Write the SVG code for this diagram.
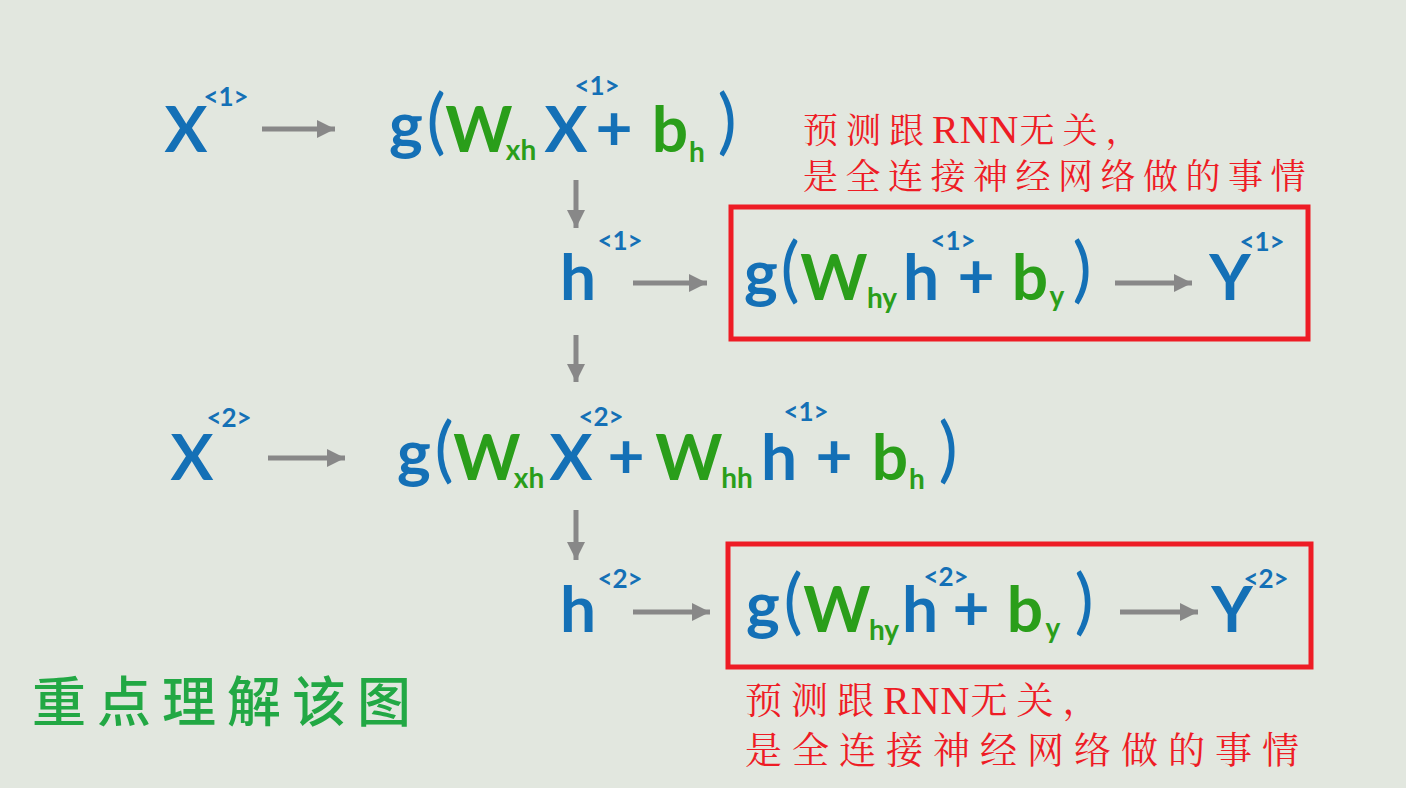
<svg xmlns="http://www.w3.org/2000/svg" width="1406" height="788" viewBox="0 0 1406 788">
<defs>
<marker id="ah" markerUnits="userSpaceOnUse" markerWidth="20" markerHeight="20" refX="18" refY="10" orient="auto">
<path d="M0,1 L18,10 L0,19 Z" fill="#888888"/>
</marker>
<style>
text{font-family:Lato,"Open Sans","Liberation Sans",sans-serif;font-weight:700;text-anchor:middle}
.b{fill:#1470b6}
.g{fill:#2a9e1a}
.L{font-size:64px}
.P{font-size:72px;font-weight:400}
.s{font-size:28px}
.p{font-size:26px}
.c{stroke:#888888;stroke-width:5;fill:none;marker-end:url(#ah)}
.box{fill:none;stroke:#ee1c25;stroke-width:5}
.note{font-family:"Liberation Serif","Noto Serif CJK SC","Noto Sans CJK SC",serif;font-weight:400;fill:#ee1c25;text-anchor:start}
.rn{letter-spacing:1px;font-size:40px}
</style>
</defs>
<rect width="1406" height="788" fill="#e2e7df"/>

<g id="connectors">
<line class="c" x1="262" y1="129" x2="335" y2="129"/>
<line class="c" x1="576" y1="180" x2="576" y2="228"/>
<line class="c" x1="633" y1="283" x2="707" y2="283"/>
<line class="c" x1="1115" y1="283" x2="1192" y2="283"/>
<line class="c" x1="576" y1="335" x2="576" y2="382"/>
<line class="c" x1="268" y1="458" x2="345" y2="458"/>
<line class="c" x1="576" y1="510" x2="576" y2="560"/>
<line class="c" x1="633" y1="612" x2="710" y2="612"/>
<line class="c" x1="1120" y1="612" x2="1198" y2="612"/>
</g>

<g id="x1">
<text class="b L" x="186" y="152">X</text>
<text class="b p" x="226" y="106">&lt;1&gt;</text>
</g>

<g id="h1calc">
<text class="b L" x="406" y="148">g</text>
<text class="b P" x="436" y="146">(</text>
<text class="g L" x="479" y="152">W</text>
<text class="g s" x="521" y="160">xh</text>
<text class="b L" x="566" y="152">X</text>
<text class="b p" x="597" y="95">&lt;1&gt;</text>
<text class="b L" x="614" y="150">+</text>
<text class="g L" x="670" y="152">b</text>
<text class="g s" x="697" y="162">h</text>
<text class="b P" x="727" y="146">)</text>
</g>

<g id="h1">
<text class="b L" x="578" y="300">h</text>
<text class="b p" x="620" y="250">&lt;1&gt;</text>
</g>

<g id="y1calc">
<rect class="box" x="731" y="207" width="577" height="132"/>
<text class="b L" x="761" y="296">g</text>
<text class="b P" x="790" y="294">(</text>
<text class="g L" x="834" y="300">W</text>
<text class="g s" x="882" y="308">hy</text>
<text class="b L" x="921" y="300">h</text>
<text class="b p" x="953" y="250">&lt;1&gt;</text>
<text class="b L" x="976" y="298">+</text>
<text class="g L" x="1030" y="300">b</text>
<text class="g s" x="1057" y="306">y</text>
<text class="b P" x="1082" y="294">)</text>
</g>

<g id="y1">
<text class="b L" x="1230" y="300">Y</text>
<text class="b p" x="1262" y="251">&lt;1&gt;</text>
</g>

<g id="note1">
<text class="note" x="803" y="143" font-size="35" letter-spacing="8">预测跟<tspan class="rn">RNN</tspan>无关，</text>
<text class="note" x="803" y="189" font-size="35" letter-spacing="7.5">是全连接神经网络做的事情</text>
</g>

<g id="x2">
<text class="b L" x="192" y="480">X</text>
<text class="b p" x="229" y="427">&lt;2&gt;</text>
</g>

<g id="h2calc">
<text class="b L" x="414" y="476">g</text>
<text class="b P" x="444" y="474">(</text>
<text class="g L" x="487" y="480">W</text>
<text class="g s" x="529" y="488">xh</text>
<text class="b L" x="571" y="480">X</text>
<text class="b p" x="601" y="426">&lt;2&gt;</text>
<text class="b L" x="626" y="478">+</text>
<text class="g L" x="689" y="480">W</text>
<text class="g s" x="737" y="488">hh</text>
<text class="b L" x="779" y="480">h</text>
<text class="b p" x="806" y="421">&lt;1&gt;</text>
<text class="b L" x="834" y="478">+</text>
<text class="g L" x="890" y="480">b</text>
<text class="g s" x="917" y="489">h</text>
<text class="b P" x="948" y="474">)</text>
</g>

<g id="h2">
<text class="b L" x="578" y="632">h</text>
<text class="b p" x="620" y="588">&lt;2&gt;</text>
</g>

<g id="y2calc">
<rect class="box" x="728" y="544" width="583" height="123"/>
<text class="b L" x="763" y="628">g</text>
<text class="b P" x="793" y="626">(</text>
<text class="g L" x="837" y="632">W</text>
<text class="g s" x="884" y="640">hy</text>
<text class="b L" x="920" y="632">h</text>
<text class="b p" x="946" y="586">&lt;2&gt;</text>
<text class="b L" x="971" y="630">+</text>
<text class="g L" x="1025" y="632">b</text>
<text class="g s" x="1053" y="638">y</text>
<text class="b P" x="1084" y="626">)</text>
</g>

<g id="y2">
<text class="b L" x="1232" y="632">Y</text>
<text class="b p" x="1266" y="588">&lt;2&gt;</text>
</g>

<g id="note2">
<text class="note" x="745" y="714" font-size="37" letter-spacing="9">预测跟<tspan class="rn">RNN</tspan>无关，</text>
<text class="note" x="745" y="764" font-size="37" letter-spacing="10">是全连接神经网络做的事情</text>
</g>

<g id="title">
<text x="32" y="722" style="font-family:'Noto Sans CJK SC',sans-serif;font-weight:500;font-size:54px;fill:#22a844;text-anchor:start" letter-spacing="11">重点理解该图</text>
</g>
</svg>
